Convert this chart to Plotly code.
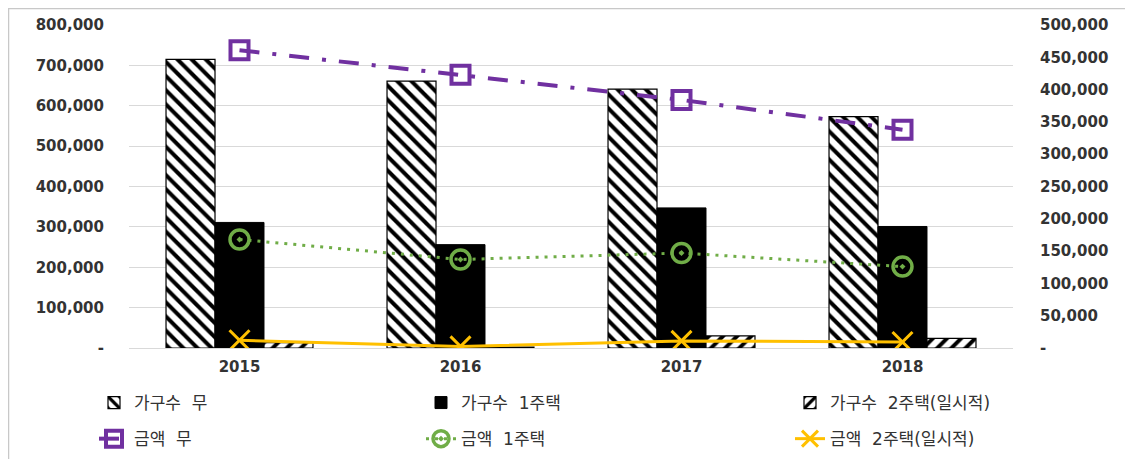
import plotly.graph_objects as go

years = ["2015", "2016", "2017", "2018"]
hh_none = [715000, 661000, 641000, 573000]
hh_one = [311000, 256000, 347000, 301000]
hh_two = [13000, 2000, 30000, 24000]
amt_none = [461000, 423000, 384000, 338000]
amt_one = [168000, 137000, 147000, 126000]
amt_two = [12000, 2500, 11000, 9300]

left_ticks = [0, 100000, 200000, 300000, 400000, 500000, 600000, 700000, 800000]
left_text = ["-", "100,000", "200,000", "300,000", "400,000", "500,000", "600,000", "700,000", "800,000"]
right_ticks = [0, 50000, 100000, 150000, 200000, 250000, 300000, 350000, 400000, 450000, 500000]
right_text = ["-", "50,000", "100,000", "150,000", "200,000", "250,000", "300,000", "350,000", "400,000", "450,000", "500,000"]

FONT = "DejaVu Sans, Noto Sans CJK KR"
TXT = "#333333"

fig = go.Figure()

fig.add_trace(go.Bar(
    x=years, y=hh_none, name="가구수  무", legend="legend", legendgroup="a1",
    marker=dict(color="white", line=dict(color="black", width=1.2),
                pattern=dict(shape="\\", fgcolor="black", bgcolor="white", fgopacity=1,
                             size=10, solidity=0.4)),
))
fig.add_trace(go.Bar(
    x=years, y=hh_one, name="가구수  1주택", legend="legend2", legendgroup="b1",
    marker=dict(color="black", line=dict(color="black", width=1)),
))
fig.add_trace(go.Bar(
    x=years, y=hh_two, name="가구수  2주택(일시적)", legend="legend3", legendgroup="c1",
    marker=dict(color="white", line=dict(color="black", width=1.2),
                pattern=dict(shape="/", fgcolor="black", bgcolor="white", fgopacity=1,
                             size=10, solidity=0.4)),
))

fig.add_trace(go.Scatter(
    x=years, y=amt_none, name="금액  무", yaxis="y2", legend="legend", legendgroup="a2",
    mode="lines+markers",
    line=dict(color="#7030A0", width=4, dash="20px,13px,4px,13px"),
    marker=dict(symbol="square-open", size=18, color="#7030A0", line=dict(width=4, color="#7030A0")),
))
fig.add_trace(go.Scatter(
    x=years, y=amt_one, name="금액  1주택", yaxis="y2", legend="legend2", legendgroup="b2",
    mode="lines+markers",
    line=dict(color="#70AD47", width=3, dash="3px,6px"),
    marker=dict(symbol="circle-open-dot", size=19, color="#70AD47", line=dict(width=3.5, color="#70AD47")),
))
fig.add_trace(go.Scatter(
    x=years, y=amt_two, name="금액  2주택(일시적)", yaxis="y2", legend="legend3", legendgroup="c2",
    mode="lines+markers",
    line=dict(color="#FFC000", width=3),
    marker=dict(symbol="x-thin-open", size=20, color="#FFC000", line=dict(width=3, color="#FFC000")),
))

leg_common = dict(orientation="v", xref="container", yref="container", yanchor="top",
                  xanchor="left", traceorder="grouped", tracegroupgap=11,
                  font=dict(family=FONT, size=17, color=TXT), bgcolor="rgba(0,0,0,0)")

fig.update_layout(
    width=1133, height=459,
    margin=dict(l=121, r=128, t=17, b=119, autoexpand=False),
    paper_bgcolor="white", plot_bgcolor="white",
    barmode="group", bargap=0.335, bargroupgap=0,
    font=dict(family=FONT, size=14, color=TXT),
    xaxis=dict(type="category", showgrid=False, showline=True, linecolor="#d9d9d9", linewidth=1,
               ticks="", tickfont=dict(family=FONT, size=15, color=TXT, weight="bold"),
               ticklabelstandoff=5),
    yaxis=dict(range=[0, 800000], tickvals=left_ticks, ticktext=left_text,
               showgrid=True, gridcolor="#d9d9d9", gridwidth=1, zeroline=False,
               showline=False, ticks="", ticklabelstandoff=24,
               tickfont=dict(family=FONT, size=15, color=TXT, weight="bold")),
    yaxis2=dict(range=[0, 500000], tickvals=right_ticks, ticktext=right_text,
                overlaying="y", side="right", showgrid=False, zeroline=False,
                showline=False, ticks="", ticklabelstandoff=26,
                tickfont=dict(family=FONT, size=15, color=TXT, weight="bold")),
    legend=dict(x=86 / 1133, y=1 - 377 / 459, **leg_common),
    legend2=dict(x=413 / 1133, y=1 - 377 / 459, **leg_common),
    legend3=dict(x=782 / 1133, y=1 - 377 / 459, **leg_common),
    shapes=[
        dict(type="line", xref="paper", yref="paper",
             x0=(0 - 121) / 884, x1=(1133 - 121) / 884,
             y0=(459 - 119 - 0.5) / 323, y1=(459 - 119 - 0.5) / 323,
             line=dict(color="#c8c8c8", width=1.5)),
        dict(type="line", xref="paper", yref="paper",
             x0=(0.5 - 121) / 884, x1=(0.5 - 121) / 884,
             y0=(459 - 119) / 323, y1=-119 / 323,
             line=dict(color="#c8c8c8", width=1.5)),
    ],
)

fig.write_html("out.html")
